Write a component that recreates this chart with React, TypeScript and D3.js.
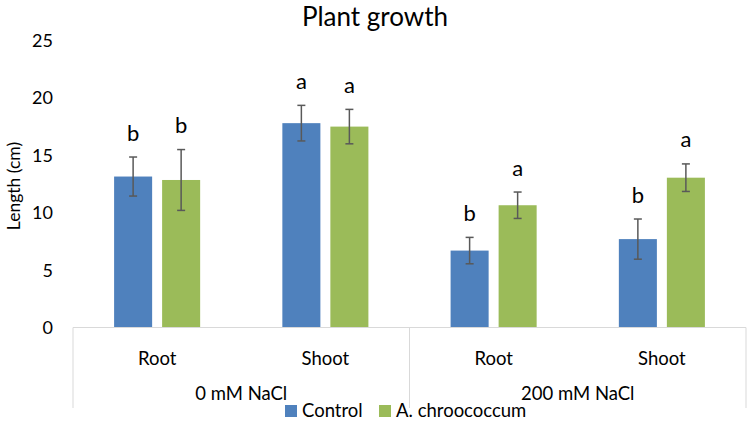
import React from 'react';
import * as d3 from 'd3';

// salt treatment groups and the organ measured inside each
const treatments = ['0 mM NaCl', '200 mM NaCl'];
const organs = ['Root', 'Shoot'];
const seriesNames = ['Control', 'A. chroococcum'];

// mean length (cm), one entry per treatment x organ
const controlMeans = [13.15, 17.8, 6.7, 7.7];
const controlErrors = [1.7, 1.55, 1.15, 1.75];
const controlLetters = ['b', 'a', 'b', 'b'];

const inoculatedMeans = [12.85, 17.5, 10.65, 13.05];
const inoculatedErrors = [2.65, 1.5, 1.15, 1.2];
const inoculatedLetters = ['b', 'a', 'a', 'a'];

const yTicks = [0, 5, 10, 15, 20, 25];

const colors = ['#4f81bd', '#9bbb59'];
const font = 'Lato, "Open Sans", sans-serif';

export default function App() {
  const width = 755;
  const height = 423;
  const left = 73;
  const right = 746;
  const baseY = 327.5;
  const axisBottom = 408;

  const categories = treatments.flatMap((t) => organs.map((o) => `${t}|${o}`));

  const x = d3.scaleBand<string>().domain(categories).range([left, right]).padding(0);
  const inner = d3
    .scaleBand<string>()
    .domain(seriesNames)
    .range([0, x.bandwidth()])
    .paddingInner(0.208)
    .paddingOuter(0.856);
  const y = d3.scaleLinear().domain([0, 25]).range([baseY, 40.5]);

  const series = [
    { name: seriesNames[0], means: controlMeans, errs: controlErrors, letters: controlLetters },
    { name: seriesNames[1], means: inoculatedMeans, errs: inoculatedErrors, letters: inoculatedLetters },
  ];

  const groupWidth = x.bandwidth() * organs.length;

  return (
    <svg
      width={width}
      height={height}
      style={{ position: 'absolute', left: 0, top: 0, background: '#fff' }}
      fontFamily={font}
    >
      <text x={375} y={26} textAnchor="middle" fontSize={26} fill="#000">
        Plant growth
      </text>

      {/* y tick labels, no axis line */}
      {yTicks.map((t) => (
        <text key={t} x={53} y={y(t) + 6.5} textAnchor="end" fontSize={18} fill="#000">
          {t}
        </text>
      ))}
      <text
        transform={`translate(20, ${(y(0) + y(25)) / 2 + 2}) rotate(-90)`}
        textAnchor="middle"
        fontSize={17.5}
        fill="#000"
      >
        Length (cm)
      </text>

      {/* bars, error bars and significance letters */}
      {series.map((s, si) =>
        categories.map((c, i) => {
          const bx = (x(c) ?? 0) + (inner(s.name) ?? 0);
          const bw = inner.bandwidth();
          const cx = bx + bw / 2;
          const hi = y(s.means[i] + s.errs[i]);
          const lo = y(s.means[i] - s.errs[i]);
          return (
            <g key={`${si}-${i}`}>
              <rect x={bx} y={y(s.means[i])} width={bw} height={baseY - y(s.means[i])} fill={colors[si]} />
              <g stroke="#595959" strokeWidth={1.5}>
                <line x1={cx} x2={cx} y1={hi} y2={lo} />
                <line x1={cx - 4} x2={cx + 4} y1={hi} y2={hi} />
                <line x1={cx - 4} x2={cx + 4} y1={lo} y2={lo} />
              </g>
              <text x={cx} y={hi - 16.5} textAnchor="middle" fontSize={22} fill="#000">
                {s.letters[i]}
              </text>
            </g>
          );
        })
      )}

      {/* category axis with two levels */}
      <g stroke="#d9d9d9" strokeWidth={1}>
        <line x1={left} x2={right} y1={baseY} y2={baseY} />
        {d3.range(treatments.length + 1).map((k) => {
          const vx = left + k * groupWidth;
          return <line key={k} x1={vx} x2={vx} y1={baseY} y2={axisBottom} />;
        })}
      </g>
      {categories.map((c) => (
        <text
          key={c}
          x={(x(c) ?? 0) + x.bandwidth() / 2}
          y={364.5}
          textAnchor="middle"
          fontSize={18.5}
          fill="#000"
        >
          {c.split('|')[1]}
        </text>
      ))}
      {treatments.map((t, k) => (
        <text key={t} x={left + (k + 0.5) * groupWidth} y={400} textAnchor="middle" fontSize={18.5} fill="#000">
          {t}
        </text>
      ))}

      {/* legend */}
      {seriesNames.map((n, i) => {
        const lx = [285, 379][i];
        return (
          <g key={n}>
            <rect x={lx} y={405} width={12} height={12} fill={colors[i]} />
            <text x={lx + 17} y={417} fontSize={18.5} fill="#000">
              {n}
            </text>
          </g>
        );
      })}
    </svg>
  );
}
